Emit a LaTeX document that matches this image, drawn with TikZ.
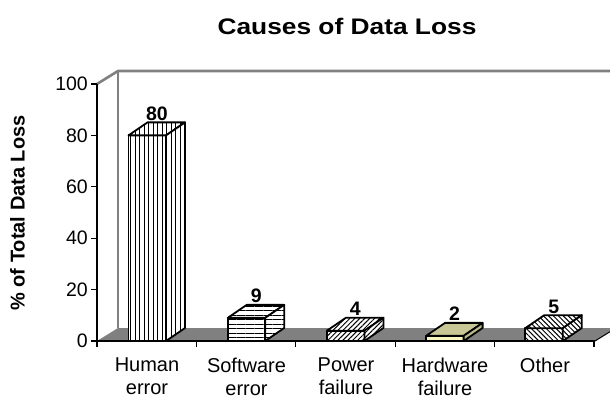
\documentclass[tikz,border=0pt]{standalone}
\usepackage{fontspec}
\setmainfont{Liberation Sans}
\usepackage{graphicx}
\usetikzlibrary{patterns.meta}
\definecolor{wallgray}{RGB}{128,128,128}
\definecolor{hwtop}{RGB}{200,200,150}
\definecolor{hwfront}{RGB}{246,246,192}
\definecolor{hwside}{RGB}{186,186,136}
\newcommand\mybar[6]{% index, value, front, top, side, label
  \pgfmathsetmacro\bL{128.5+99.2*#1}
  \pgfmathsetmacro\bR{\bL+37.5}
  \pgfmathsetmacro\bT{341-2.57*#2}
  \pgfmathsetmacro\bRR{\bR+19}
  \pgfmathsetmacro\bLL{\bL+19}
  \pgfmathsetmacro\bTT{\bT-13}
  \pgfmathsetmacro\bBB{341-13}
  \filldraw[barline,#3] (\bL,341) -- (\bR,341) -- (\bR,\bT) -- (\bL,\bT) -- cycle;
  \filldraw[barline,#4] (\bL,\bT) -- (\bR,\bT) -- (\bRR,\bTT) -- (\bLL,\bTT) -- cycle;
  \filldraw[barline,#5] (\bR,341) -- (\bRR,\bBB) -- (\bRR,\bTT) -- (\bR,\bT) -- cycle;
  \node[vallab] (val#1) at ({\bL+28.5},{\bTT-2}) {#6};
}
\begin{document}
\begin{tikzpicture}[x=1pt,y=-1pt,
  barline/.style={draw=black,line width=1.8pt,line join=round},
  vallab/.style={font=\fontsize{19.5}{22}\selectfont\bfseries,anchor=base,inner sep=0pt},
  ticklab/.style={font=\fontsize{19.5}{22}\selectfont,anchor=east,inner sep=0pt},
  catlab/.style={font=\fontsize{20}{23}\selectfont,align=center,anchor=north,inner sep=0pt},
  vlines/.style={preaction={fill=white},pattern={Lines[angle=90,distance=4.5pt,line width=1pt]}},
  hlines/.style={preaction={fill=white},pattern={Lines[angle=0,distance=4.5pt,line width=1pt]}},
  nelines/.style={preaction={fill=white},pattern={Lines[angle=45,distance=3.5pt,line width=1pt]}},
  nwlines/.style={preaction={fill=white},pattern={Lines[angle=-45,distance=3.5pt,line width=1pt]}},
  wall/.style={draw=wallgray,line width=2.6pt}]
\useasboundingbox (0,0) rectangle (610,401);
% floor
\fill[wallgray] (97,341) -- (595,341) -- (616,328) -- (118,328) -- cycle;
\draw[black,line width=1pt] (595,341) -- (616,328);
% back wall edges
\draw[wall] (97,84) -- (118,71) -- (616,71);
\draw[wall] (118,71) -- (118,328);
% axes
\draw[black,line width=1.2pt] (97,84) -- (97,341) -- (595,341);
\foreach \k/\v in {0/0,1/20,2/40,3/60,4/80,5/100}{
  \draw[black,line width=1.2pt] (91,341-51.4*\k) -- (97,341-51.4*\k);
  \node[ticklab] (yt\k) at (88,341-51.4*\k) {\v};
}
\foreach \k in {0,...,5}{
  \draw[black,line width=1.2pt] (97+99.4*\k,341) -- (97+99.4*\k,347);
}
% bars
\mybar{0}{80}{vlines}{vlines}{vlines}{80}
\mybar{1}{9}{hlines}{hlines}{hlines}{9}
\mybar{2}{4}{nelines}{nelines}{nelines}{4}
\mybar{3}{2}{fill=hwfront}{fill=hwtop}{fill=hwside}{2}
\mybar{4}{5}{nwlines}{nwlines}{nwlines}{5}
% category labels
\node[catlab] (c0) at (147,357.5) {Human\\error};
\node[catlab] (c1) at (246.5,357.5) {Software\\error};
\node[catlab] (c2) at (346,357.5) {Power\\failure};
\node[catlab] (c3) at (445,357.5) {Hardware\\failure};
\node[catlab] (c4) at (545,357.5) {Other};
% axis title
\node[rotate=90,font=\fontsize{20}{24}\selectfont\bfseries,inner sep=0pt] (ylab) at (17.5,213) {\% of Total Data Loss};
% chart title
\node[anchor=base,inner sep=0pt] (title) at (347,35) {\scalebox{1.17}[1]{\fontsize{22.5}{27}\selectfont\bfseries Causes of Data Loss}};
\end{tikzpicture}
\end{document}
